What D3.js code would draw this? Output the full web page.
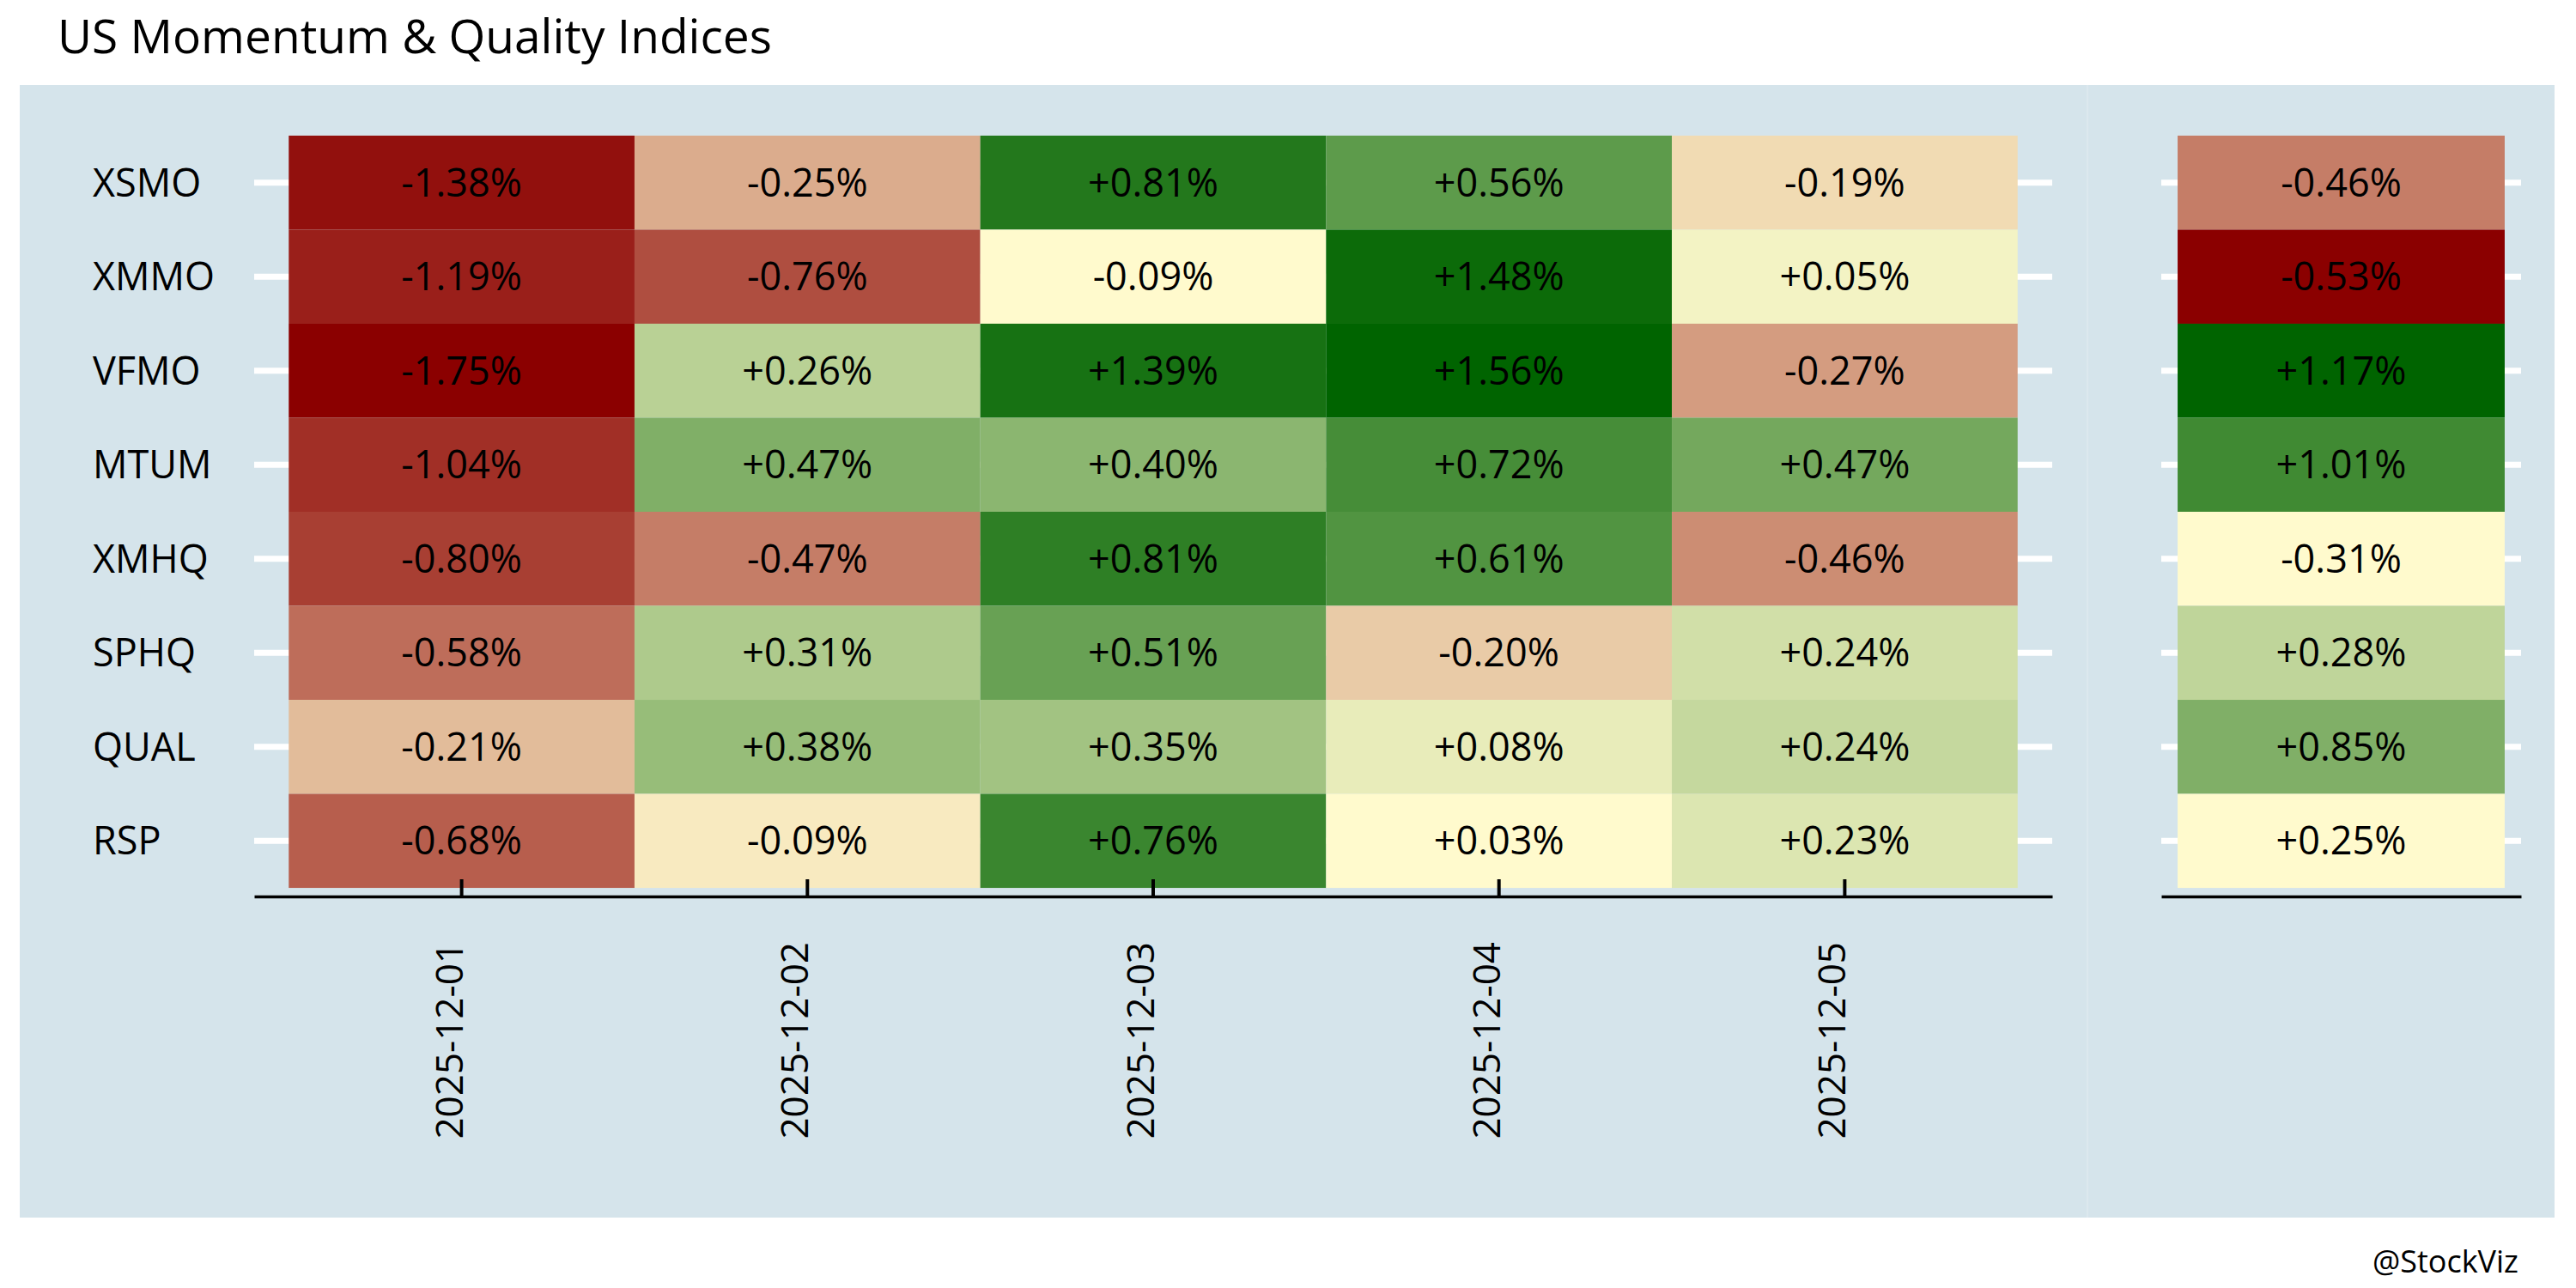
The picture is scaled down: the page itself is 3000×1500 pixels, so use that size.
<!DOCTYPE html>
<html>
<head>
<meta charset="utf-8">
<script src="https://cdn.jsdelivr.net/npm/d3@7"></script>
<style>
  body { margin: 0; background: #fff; }
  text { font-family: "Open Sans", sans-serif; }
</style>
</head>
<body>
<script>
// Tickers (rows, top to bottom) and dates (columns)
const tickers = ["XSMO", "XMMO", "VFMO", "MTUM", "XMHQ", "SPHQ", "QUAL", "RSP"];
const dates = ["2025-12-01", "2025-12-02", "2025-12-03", "2025-12-04", "2025-12-05"];

// Daily returns (%), one array per date, in ticker order
const ret1201 = [-1.38, -1.19, -1.75, -1.04, -0.80, -0.58, -0.21, -0.68];
const ret1202 = [-0.25, -0.76, 0.26, 0.468, -0.47, 0.31, 0.38, -0.094];
const ret1203 = [0.812, -0.086, 1.39, 0.40, 0.806, 0.51, 0.35, 0.76];
const ret1204 = [0.56, 1.48, 1.56, 0.72, 0.61, -0.20, 0.08, 0.03];
const ret1205 = [-0.19, 0.05, -0.27, 0.472, -0.46, 0.238, 0.243, 0.23];

// Cumulative over the week, ticker order
const retTotal = [-0.46, -0.53, 1.17, 1.01, -0.31, 0.28, 0.85, 0.25];

const dailyCols = [ret1201, ret1202, ret1203, ret1204, ret1205];

const width = 3000;
const height = 1500;

const svg = d3.select("body")
  .append("svg")
  .attr("width", width)
  .attr("height", height);

// background panel
svg.append("rect")
  .attr("x", 23).attr("y", 99)
  .attr("width", 2952).attr("height", 1319)
  .attr("fill", "#d5e4eb");

svg.append("line")
  .attr("x1", 2431).attr("x2", 2431)
  .attr("y1", 99).attr("y2", 1418)
  .attr("stroke", "#dce8ee")
  .attr("stroke-width", 2);

// title and caption
svg.append("text")
  .attr("x", 67).attr("y", 62)
  .attr("font-size", 55)
  .text("US Momentum & Quality Indices");

svg.append("text")
  .attr("x", 2933).attr("y", 1482)
  .attr("text-anchor", "end")
  .attr("font-size", 36)
  .text("@StockViz");

const yScale = d3.scaleBand()
  .domain(tickers)
  .range([147, 1045])
  .paddingOuter(0.1)
  .paddingInner(0);

// colour by rank, negatives red->yellow, positives yellow->green
function rankColour(values) {
  const neg = values.filter(v => v < 0).sort(d3.ascending);
  const pos = values.filter(v => v >= 0).sort(d3.ascending);
  const negScale = d3.scaleLinear()
    .domain([0, neg.length - 1])
    .range(["#8b0000", "#fffacd"]);
  const posScale = d3.scaleLinear()
    .domain([0, pos.length - 1])
    .range(["#fffacd", "#006400"]);
  return v => v < 0 ? negScale(neg.indexOf(v)) : posScale(pos.indexOf(v));
}

const fmt = v => (v >= 0 ? "+" : "") + v.toFixed(2) + "%";

function drawPanel(cols, keys, range, pad, showTicks) {
  const xScale = d3.scaleBand()
    .domain(keys)
    .range(range)
    .paddingOuter(pad)
    .paddingInner(0);

  const cells = [];
  cols.forEach((col, j) => {
    col.forEach((v, i) => cells.push({ key: keys[j], ticker: tickers[i], value: v }));
  });
  const colour = rankColour(cells.map(d => d.value));

  const g = svg.append("g");

  // white grid lines
  g.selectAll("line.grid")
    .data(tickers)
    .enter()
    .append("line")
    .attr("x1", range[0])
    .attr("x2", range[1])
    .attr("y1", d => yScale(d) + yScale.bandwidth() / 2)
    .attr("y2", d => yScale(d) + yScale.bandwidth() / 2)
    .attr("stroke", "#fff")
    .attr("stroke-width", 7);

  g.selectAll("rect")
    .data(cells)
    .enter()
    .append("rect")
    .attr("x", d => xScale(d.key))
    .attr("y", d => yScale(d.ticker))
    .attr("width", xScale.bandwidth())
    .attr("height", yScale.bandwidth())
    .attr("fill", d => colour(d.value));

  g.selectAll("text.val")
    .data(cells)
    .enter()
    .append("text")
    .attr("x", d => xScale(d.key) + xScale.bandwidth() / 2)
    .attr("y", d => yScale(d.ticker) + yScale.bandwidth() / 2)
    .attr("dy", "0.36em")
    .attr("text-anchor", "middle")
    .attr("font-size", 45)
    .attr("fill", "#000")
    .text(d => fmt(d.value));

  // bottom axis
  const axis = g.append("g")
    .attr("transform", "translate(0,1044)")
    .call(d3.axisBottom(xScale).tickSizeInner(showTicks ? -20 : 0).tickSizeOuter(0));

  axis.select(".domain").attr("stroke", "#000").attr("stroke-width", 3.5);
  axis.selectAll(".tick line").attr("stroke", "#000").attr("stroke-width", 4);
  axis.selectAll(".tick text")
    .attr("transform", "rotate(-90)")
    .attr("x", -53)
    .attr("y", 0)
    .attr("dy", "0.02em")
    .attr("text-anchor", "end")
    .attr("font-size", 44)
    .attr("font-family", "Open Sans")
    .attr("fill", "#000")
    .style("display", showTicks ? null : "none");
}

drawPanel(dailyCols, dates, [296, 2390], 0.1, true);
drawPanel([retTotal], ["total"], [2517, 2936], 0.05, false);

// y labels
svg.selectAll("text.ylab")
  .data(tickers)
  .enter()
  .append("text")
  .attr("class", "ylab")
  .attr("x", 108)
  .attr("y", d => yScale(d) + yScale.bandwidth() / 2)
  .attr("dy", "0.36em")
  .attr("font-size", 45)
  .text(d => d);
</script>
</body>
</html>
